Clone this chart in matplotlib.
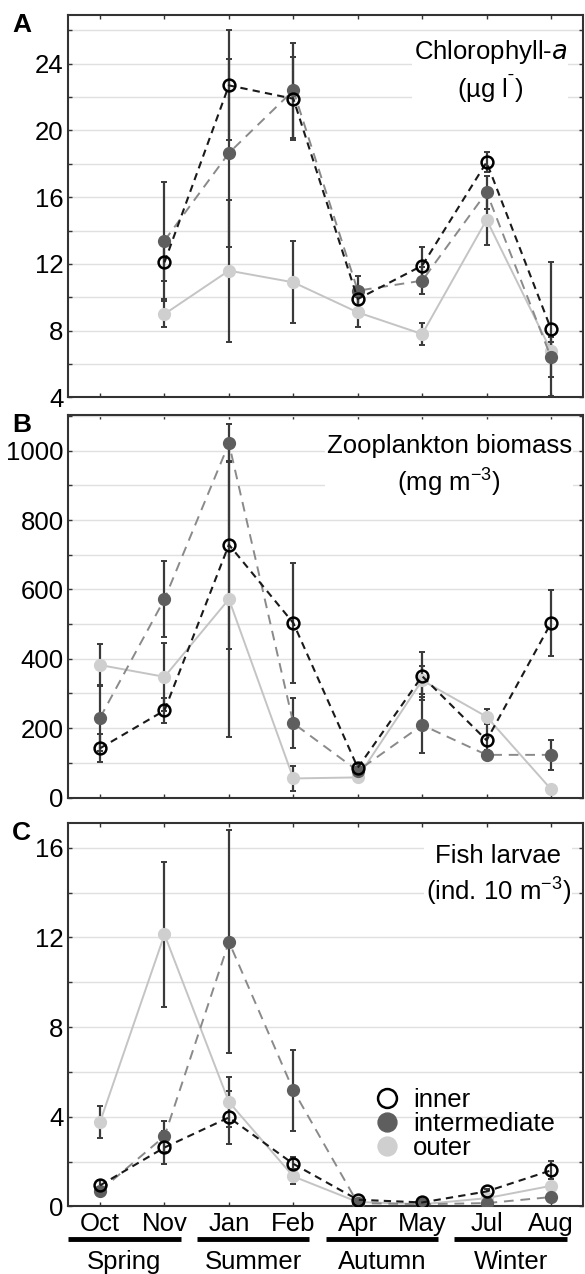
import matplotlib
matplotlib.use("Agg")
import matplotlib.pyplot as plt
import matplotlib.transforms as mtransforms
from matplotlib.ticker import MultipleLocator
import numpy as np

plt.rcParams['font.family'] = ['Liberation Sans', 'DejaVu Sans']

months = ['Oct', 'Nov', 'Jan', 'Feb', 'Apr', 'May', 'Jul', 'Aug']
seasons = ['Spring', 'Summer', 'Autumn', 'Winter']
nan = np.nan

# Chlorophyll-a (ug l-1)
chl_inner = [nan, 12.1, 22.7, 21.9, 9.9, 11.9, 18.1, 8.1]
chl_inner_se = [nan, 1.1, 3.3, 2.5, 0.6, 1.1, 0.6, 4.0]
chl_inter = [nan, 13.4, 18.65, 22.4, 10.4, 11.0, 16.3, 6.4]
chl_inter_se = [nan, 3.5, 5.65, 2.85, 0.85, 0.8, 1.0, 1.2]
chl_outer = [nan, 9.0, 11.6, 10.9, 9.1, 7.8, 14.65, 6.8]
chl_outer_se = [nan, 0.8, 4.26, 2.45, 0.9, 0.65, 1.5, 0.5]

# Zooplankton biomass (mg m-3)
zoo_inner = [142, 251, 729, 503, 86, 350, 165, 503]
zoo_inner_se = [41, 35, 300, 172, 12, 70, 46, 96]
zoo_inter = [230, 572, 1021, 214, 77, 209, 123, 123]
zoo_inter_se = [95, 110, 55, 72, 10, 81, 15, 44]
zoo_outer = [382, 348, 572, 55, 58, 338, 233, 24]
zoo_outer_se = [61, 98, 398, 35, 8, 40, 21, 5]

# Fish larvae (ind. 10 m-3)
fish_inner = [0.94, 2.63, 3.97, 1.9, 0.3, 0.18, 0.67, 1.61]
fish_inner_se = [0.25, 0.73, 1.2, 0.3, 0.05, 0.05, 0.1, 0.4]
fish_inter = [0.7, 3.13, 11.8, 5.18, 0.15, 0.1, 0.15, 0.42]
fish_inter_se = [0.15, 0.7, 4.97, 1.8, 0.05, 0.05, 0.05, 0.1]
fish_outer = [3.77, 12.13, 4.66, 1.34, 0.2, 0.1, 0.37, 0.92]
fish_outer_se = [0.72, 3.23, 1.11, 0.35, 0.05, 0.05, 0.1, 0.15]

x = np.arange(len(months))
ERR = '#3a3a3a'
FS = 18.5


def draw_panel(ax, inner, inner_se, inter, inter_se, outer, outer_se,
               ylim, major, minor, label, title, title_pos):
    # outer first, inner on top
    for vals, se in [(outer, outer_se), (inter, inter_se), (inner, inner_se)]:
        ax.errorbar(x, vals, yerr=se, fmt='none', ecolor=ERR, elinewidth=1.6,
                    capsize=2.5, capthick=1.4, zorder=3)
    ax.plot(x, outer, '-', color='#c4c4c4', lw=1.4, marker='o', ms=8.5,
            mfc='#cfcfcf', mec='#cfcfcf', zorder=4, label='outer')
    ax.plot(x, inter, color='#8a8a8a', lw=1.4, dashes=(5, 3.5), marker='o', ms=8.5,
            mfc='#5e5e5e', mec='#5e5e5e', zorder=5, label='intermediate')
    ax.plot(x, inner, color='#1a1a1a', lw=1.5, dashes=(3.5, 2.5), marker='o', ms=8.5,
            mfc='none', mec='black', mew=1.8, zorder=6, label='inner')

    ax.set_xlim(-0.5, 7.5)
    ax.set_ylim(*ylim)
    ax.set_xticks(x)
    ax.yaxis.set_major_locator(MultipleLocator(major))
    ax.yaxis.set_minor_locator(MultipleLocator(minor))
    ax.grid(True, which='both', axis='y', color='#e0e0e0', lw=1.0, zorder=0)
    ax.tick_params(which='both', direction='in', top=True, right=True,
                   length=3, width=1.0, color='#333333', labelsize=FS, pad=3)
    for s in ax.spines.values():
        s.set_color('#333333')
        s.set_linewidth(1.5)
    ax.text(-0.09, 1.005, label, transform=ax.transAxes, fontsize=19,
            fontweight='bold', va='top', ha='center')
    ax.text(title_pos[0], title_pos[1], title, transform=ax.transAxes,
            fontsize=FS, ha='center', va='top', linespacing=1.25,
            bbox=dict(fc='white', ec='none', pad=1), zorder=7)


fig = plt.figure(figsize=(5.85, 12.74), dpi=100)
axA = fig.add_axes([0.116, 0.688, 0.881, 0.300])
axB = fig.add_axes([0.116, 0.374, 0.881, 0.300])
axC = fig.add_axes([0.116, 0.053, 0.881, 0.301])

draw_panel(axA, chl_inner, chl_inner_se, chl_inter, chl_inter_se, chl_outer, chl_outer_se,
           (4, 26.9), 4, 2, 'A', 'Chlorophyll-$a$\n(µg l$^{\\mathregular{\u02C9}}$)', (0.82, 0.94))
draw_panel(axB, zoo_inner, zoo_inner_se, zoo_inter, zoo_inter_se, zoo_outer, zoo_outer_se,
           (0, 1102), 200, 100, 'B', 'Zooplankton biomass\n(mg m$^{\\mathregular{-3}}$)', (0.74, 0.95))
draw_panel(axC, fish_inner, fish_inner_se, fish_inter, fish_inter_se, fish_outer, fish_outer_se,
           (0, 17.1), 4, 2, 'C', 'Fish larvae\n(ind. 10 m$^{\\mathregular{-3}}$)', (0.835, 0.945))

axA.set_xticklabels([])
axB.set_xticklabels([])
axC.set_xticklabels(months)
axC.tick_params(axis='x', pad=4)

handles, labels = axC.get_legend_handles_labels()
axC.legend(handles[::-1], labels[::-1], loc='upper left', bbox_to_anchor=(0.6, 0.335),
           frameon=False, fontsize=FS, handlelength=0, handletextpad=1.0,
           labelspacing=0.0, markerscale=1.6, borderaxespad=0)

# season bars and labels under the month labels
trans = mtransforms.blended_transform_factory(axC.transData, axC.transAxes)
for k, name in enumerate(seasons):
    x0, x1 = 2 * k - 0.5, 2 * k + 1.25
    axC.plot([x0, x1], [-0.085, -0.085], color='black', lw=3.5,
             transform=trans, clip_on=False, solid_capstyle='butt')
    axC.text((x0 + x1) / 2, -0.145, name, transform=trans, ha='center',
             va='center', fontsize=FS)

fig.savefig('out.png', dpi=100)
